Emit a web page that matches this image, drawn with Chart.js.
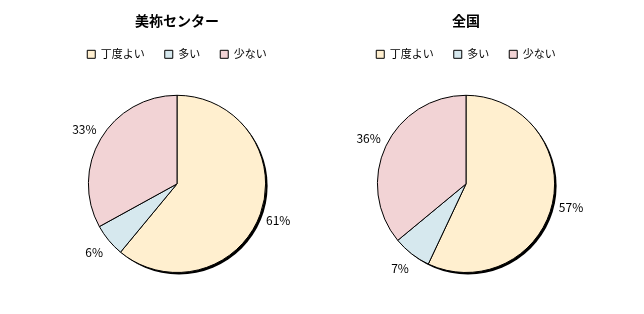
<!DOCTYPE html>
<html>
<head>
<meta charset="utf-8">
<script src="https://cdn.jsdelivr.net/npm/chart.js@4"></script>
<style>
  body { margin: 0; background: #fff; }
  .box { position: absolute; top: 0; width: 300px; height: 314px; }
</style>
</head>
<body>
<div class="box" style="left:27px"><canvas id="left"></canvas></div>
<div class="box" style="left:316px"><canvas id="right"></canvas></div>
<script>
var categories = ['丁度よい', '多い', '少ない'];
var mineValues = [61, 6, 33];
var zenkokuValues = [57, 7, 36];
var colors = ['#FFEFCF', '#D6E8EE', '#F2D3D5'];
var font = "'Noto Sans CJK JP', sans-serif";

// extra room under the legend
var legendGap = {
  id: 'legendGap',
  beforeInit: function(chart) {
    var fit = chart.legend.fit;
    chart.legend.fit = function() {
      fit.bind(chart.legend)();
      this.height += 25;
    };
  }
};

// dark drop shadow under the pie
var shadowPlugin = {
  id: 'shadow',
  beforeDatasetsDraw: function(chart) {
    var arc = chart.getDatasetMeta(0).data[0];
    var ctx = chart.ctx;
    ctx.save();
    ctx.fillStyle = '#000';
    ctx.beginPath();
    ctx.arc(arc.x + 2, arc.y + 2, arc.outerRadius, 0, Math.PI * 2);
    ctx.fill();
    ctx.restore();
  }
};

// percentage labels outside the slices
var labelPlugin = {
  id: 'outLabels',
  afterDatasetsDraw: function(chart) {
    var ctx = chart.ctx;
    var data = chart.data.datasets[0].data;
    ctx.save();
    ctx.font = '12px ' + font;
    ctx.fillStyle = '#000';
    ctx.textAlign = 'center';
    ctx.textBaseline = 'middle';
    chart.getDatasetMeta(0).data.forEach(function(arc, i) {
      var mid = (arc.startAngle + arc.endAngle) / 2;
      var r = arc.outerRadius + 19;
      ctx.fillText(data[i] + '%', arc.x + Math.cos(mid) * r, arc.y + Math.sin(mid) * r);
    });
    ctx.restore();
  }
};

function makePie(id, title, values) {
  var ctx = document.getElementById(id).getContext('2d');
  return new Chart(ctx, {
    type: 'pie',
    data: {
      labels: categories,
      datasets: [{
        data: values,
        backgroundColor: colors,
        borderColor: '#000',
        borderWidth: 1,
        hoverOffset: 0
      }]
    },
    options: {
      responsive: false,
      animation: false,
      rotation: 0,
      layout: { padding: { top: 0, bottom: 41, left: 0, right: 0 } },
      plugins: {
        title: {
          display: true,
          text: title,
          color: '#000',
          font: { family: font, size: 14, weight: 'bold' },
          padding: { top: 12, bottom: 0 }
        },
        legend: {
          display: true,
          position: 'top',
          labels: {
            color: '#000',
            font: { family: font, size: 11 },
            boxWidth: 8,
            boxHeight: 8,
            padding: 20,
            generateLabels: function(chart) {
              return categories.map(function(c, i) {
                return { text: c, fillStyle: colors[i], strokeStyle: '#000', lineWidth: 1, index: i };
              });
            }
          }
        },
        tooltip: { enabled: false }
      }
    },
    plugins: [legendGap, shadowPlugin, labelPlugin]
  });
}

document.getElementById('left').width = 300;
document.getElementById('left').height = 314;
document.getElementById('right').width = 300;
document.getElementById('right').height = 314;
makePie('left', '美祢センター', mineValues);
makePie('right', '全国', zenkokuValues);
</script>
</body>
</html>
